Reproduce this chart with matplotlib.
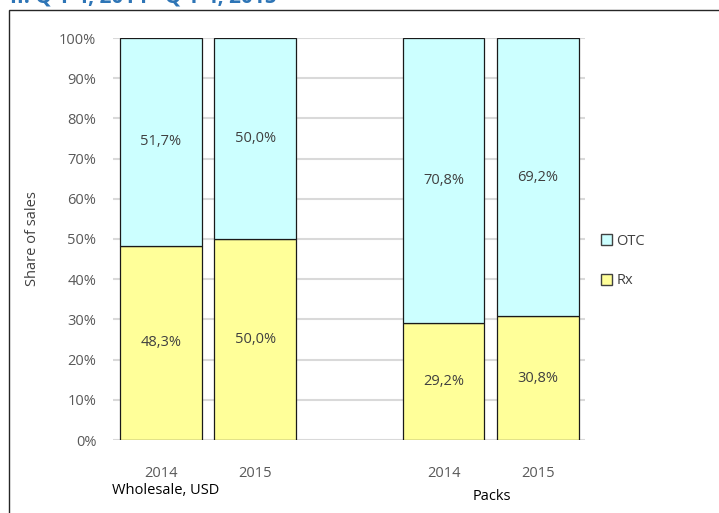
import numpy as np
import matplotlib.pyplot as plt
from matplotlib.patches import Rectangle, Patch

plt.rcParams['font.family'] = ['Open Sans', 'DejaVu Sans']

# shares of sales, %
years = ['2014', '2015', '2014', '2015']
groups = ['Wholesale, USD', 'Packs']
rx = [48.3, 50.0, 29.2, 30.8]
otc = [51.7, 50.0, 70.8, 69.2]
yticks = [0, 10, 20, 30, 40, 50, 60, 70, 80, 90, 100]

otc_color = '#CCFFFF'
rx_color = '#FFFF99'
txt_color = '#404040'

fig = plt.figure(figsize=(7.19, 5.13), dpi=100)
ax = fig.add_axes([113 / 719, 73 / 513, 472 / 719, 402 / 513])

xpos = np.array([0, 1, 3, 4])
w = 0.865
ax.bar(xpos, rx, w, color=rx_color, edgecolor='#1a1a1a', linewidth=0.9, zorder=3)
ax.bar(xpos, otc, w, bottom=rx, color=otc_color, edgecolor='#1a1a1a', linewidth=0.9, zorder=3)

def fmt(v):
    return f'{v:.1f}%'.replace('.', ',')

for x, r, o in zip(xpos, rx, otc):
    ax.text(x, r / 2, fmt(r), ha='center', va='center', fontsize=10.5, color=txt_color, zorder=4)
    ax.text(x, r + o / 2, fmt(o), ha='center', va='center', fontsize=10.5, color=txt_color, zorder=4)

ax.set_xlim(-0.508, 4.50)
ax.set_ylim(0, 100)
ax.set_yticks(yticks)
ax.set_yticklabels([f'{t}%' for t in yticks])
ax.set_xticks(xpos)
ax.set_xticklabels(years)
ax.tick_params(axis='both', length=0, labelsize=10.5, labelcolor='#595959')
ax.tick_params(axis='x', pad=19)
ax.tick_params(axis='y', pad=12)
ax.yaxis.grid(True, color='#D9D9D9', linewidth=1.5, zorder=0)
for s in ax.spines.values():
    s.set_visible(False)

ax.set_ylabel('Share of sales', fontsize=10.5, color=txt_color)
ax.yaxis.set_label_coords(-0.155, 0.5)

# group names under the year labels
fig.text(166 / 719, 1 - 490 / 513, groups[0], ha='center', va='center', fontsize=10.5, color='black')
fig.text(492 / 719, 1 - 497 / 513, groups[1], ha='center', va='center', fontsize=10.5, color='black')

handles = [Patch(facecolor=otc_color, edgecolor='#404040', label='OTC'),
           Patch(facecolor=rx_color, edgecolor='#404040', label='Rx')]
fig.legend(handles=handles, loc='center left', bbox_to_anchor=(588 / 719, 1 - 261 / 513),
           frameon=False, fontsize=10.5, handlelength=0.75, handleheight=0.75,
           handletextpad=0.3, labelspacing=1.7, labelcolor=txt_color)

# outer chart frame
fig.patches.append(Rectangle((9 / 719, -0.1), 1.0, 1 - 10 / 513 + 0.1, transform=fig.transFigure,
                             fill=False, edgecolor='#262626', linewidth=1.0))

# section heading, cut at the top edge
fig.text(10 / 719, 1 - 3 / 513, 'II. Q 1-4, 2014 - Q 1-4, 2015', ha='left', va='baseline',
         fontsize=15, fontweight='bold', color='#2E75B6')

fig.savefig('out.png', dpi=100)
